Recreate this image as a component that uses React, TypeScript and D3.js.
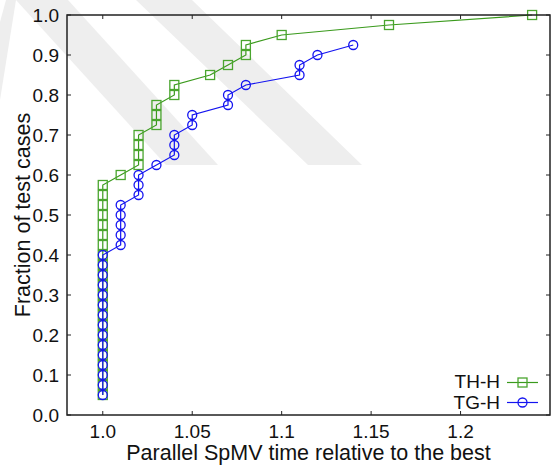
import React from "react";
import * as d3 from "d3";

// TH-H series (x = relative time, y = fraction of test cases)
const thX = [
  1.0, 1.0, 1.0, 1.0, 1.0, 1.0, 1.0, 1.0, 1.0, 1.0, 1.0,
  1.0, 1.0, 1.0, 1.0, 1.0, 1.0, 1.0, 1.0, 1.0, 1.0, 1.0,
  1.01, 1.02, 1.02, 1.02, 1.02, 1.03, 1.03, 1.03, 1.04, 1.04,
  1.06, 1.07, 1.08, 1.08, 1.1, 1.16, 1.24,
];
const thY = [
  0.05, 0.075, 0.1, 0.125, 0.15, 0.175, 0.2, 0.225, 0.25, 0.275, 0.3,
  0.325, 0.35, 0.375, 0.4, 0.425, 0.45, 0.475, 0.5, 0.525, 0.55, 0.575,
  0.6, 0.625, 0.65, 0.675, 0.7, 0.725, 0.75, 0.775, 0.8, 0.825,
  0.85, 0.875, 0.9, 0.925, 0.95, 0.975, 1.0,
];

// TG-H series
const tgX = [
  1.0, 1.0, 1.0, 1.0, 1.0, 1.0, 1.0, 1.0, 1.0, 1.0, 1.0, 1.0, 1.0, 1.0, 1.0,
  1.01, 1.01, 1.01, 1.01, 1.01, 1.02, 1.02, 1.02, 1.03, 1.04, 1.04, 1.04,
  1.05, 1.05, 1.07, 1.07, 1.08, 1.11, 1.11, 1.12, 1.14,
];
const tgY = [
  0.05, 0.075, 0.1, 0.125, 0.15, 0.175, 0.2, 0.225, 0.25, 0.275, 0.3, 0.325, 0.35, 0.375, 0.4,
  0.425, 0.45, 0.475, 0.5, 0.525, 0.55, 0.575, 0.6, 0.625, 0.65, 0.675, 0.7,
  0.725, 0.75, 0.775, 0.8, 0.825, 0.85, 0.875, 0.9, 0.925,
];

const xTicks = [1.0, 1.05, 1.1, 1.15, 1.2];
const xTickLabels = ["1.0", "1.05", "1.1", "1.15", "1.2"];
const yTicks = [0, 0.1, 0.2, 0.3, 0.4, 0.5, 0.6, 0.7, 0.8, 0.9, 1.0];
const yTickLabels = ["0.0", "0.1", "0.2", "0.3", "0.4", "0.5", "0.6", "0.7", "0.8", "0.9", "1.0"];

const seriesNames = ["TH-H", "TG-H"];

const FONT = "'Liberation Sans', Arial, Helvetica, sans-serif";
const GREEN_LINE = "#3a9a1c";
const GREEN_MARK = "#4aa52e";
const BLUE = "#1414f0";

export default function App() {
  const W = 553;
  const H = 470;
  const L = 67, R = 550, T = 15, B = 415;
  const x = d3.scaleLinear().domain([0.98, 1.25]).range([L, R]);
  const y = d3.scaleLinear().domain([0, 1]).range([B, T]);
  const line = d3
    .line<[number, number]>()
    .x((d) => x(d[0]))
    .y((d) => y(d[1]));

  const th: [number, number][] = thX.map((v, i) => [v, thY[i]]);
  const tg: [number, number][] = tgX.map((v, i) => [v, tgY[i]]);
  const tick = 4;
  const ms = 4.5;

  const square = (cx: number, cy: number, color: string, key: string | number) => (
    <rect key={key} x={cx - ms} y={cy - ms} width={ms * 2} height={ms * 2} fill="none" stroke={color} strokeWidth={1.3} />
  );
  const circle = (cx: number, cy: number, color: string, key: string | number) => (
    <circle key={key} cx={cx} cy={cy} r={ms} fill="none" stroke={color} strokeWidth={1.3} />
  );

  const wm = "#eeeeee";

  return (
    <svg
      width={W}
      height={H}
      viewBox={`0 0 ${W} ${H}`}
      style={{ position: "absolute", left: 0, top: 0, background: "#fff" }}
      fontFamily={FONT}
    >
      <rect x={0} y={0} width={W} height={H} fill="#fff" />
      {/* faint background watermark */}
      <g fill={wm}>
        <polygon points="16,0 68,0 218,165 166,165" />
        <polygon points="136,0 192,0 362,165 308,165" />
        <polygon points="6,0 16,0 0,100 0,22" />
      </g>

      {/* frame ticks */}
      <g stroke="#222" strokeWidth={1}>
        {xTicks.map((t, i) => (
          <g key={"xt" + i}>
            <line x1={x(t)} x2={x(t)} y1={B} y2={B - tick} />
            <line x1={x(t)} x2={x(t)} y1={T} y2={T + tick} />
          </g>
        ))}
        {yTicks.map((t, i) => (
          <g key={"yt" + i}>
            <line x1={L} x2={L + tick} y1={y(t)} y2={y(t)} />
            <line x1={R} x2={R - tick} y1={y(t)} y2={y(t)} />
          </g>
        ))}
      </g>

      {/* tick labels */}
      <g fontSize={19} fill="#111">
        {xTicks.map((t, i) => (
          <text key={"xl" + i} x={x(t)} y={B + 23} textAnchor="middle">
            {xTickLabels[i]}
          </text>
        ))}
        {yTicks.map((t, i) => (
          <text key={"yl" + i} x={L - 8} y={y(t) + 6.8} textAnchor="end">
            {yTickLabels[i]}
          </text>
        ))}
      </g>

      {/* axis titles */}
      <text x={(L + R) / 2} y={460} textAnchor="middle" fontSize={21.5} fill="#111">
        Parallel SpMV time relative to the best
      </text>
      <text
        transform={`translate(30,${(T + B) / 2}) rotate(-90)`}
        textAnchor="middle"
        fontSize={21.5}
        fill="#111"
      >
        Fraction of test cases
      </text>

      {/* TH-H */}
      <path d={line(th) || ""} fill="none" stroke={GREEN_LINE} strokeWidth={1.2} />
      {th.map((d, i) => square(x(d[0]), y(d[1]), GREEN_MARK, "s" + i))}

      {/* TG-H */}
      <path d={line(tg) || ""} fill="none" stroke={BLUE} strokeWidth={1.2} />
      {tg.map((d, i) => circle(x(d[0]), y(d[1]), BLUE, "c" + i))}

      {/* legend */}
      <g fontSize={19} fill="#111">
        <text x={500} y={387.5} textAnchor="end">{seriesNames[0]}</text>
        <line x1={507} x2={538} y1={382.5} y2={382.5} stroke={GREEN_LINE} strokeWidth={1.2} />
        {square(522.5, 382.5, GREEN_MARK, "lg0")}
        <text x={500} y={409} textAnchor="end">{seriesNames[1]}</text>
        <line x1={507} x2={538} y1={402.5} y2={402.5} stroke={BLUE} strokeWidth={1.2} />
        {circle(522.5, 402.5, BLUE, "lg1")}
      </g>

      {/* frame */}
      <rect x={L} y={T} width={R - L} height={B - T} fill="none" stroke="#222" strokeWidth={1.5} />
    </svg>
  );
}
